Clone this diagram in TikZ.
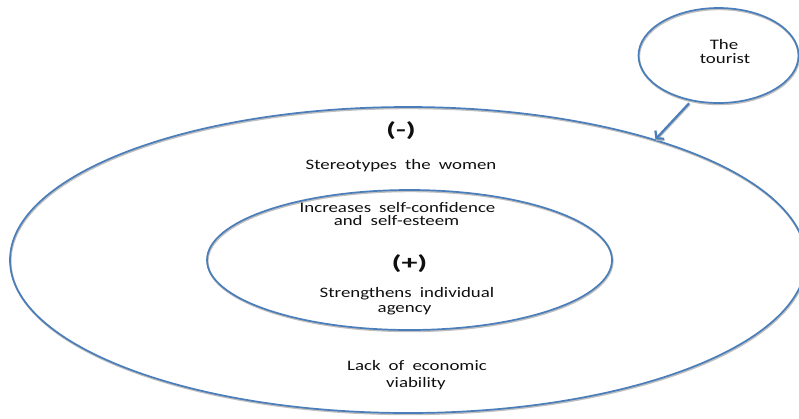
\documentclass[tikz,border=0pt]{standalone}
\usepackage{fontspec}
\setmainfont{Carlito}[FakeStretch=1.3, WordSpace=1.9]
\newfontfamily\signfont{Carlito}[FakeStretch=1.6]
\usetikzlibrary{shapes.geometric, arrows.meta}
\definecolor{ringblue}{RGB}{74,126,187}
\definecolor{inktext}{RGB}{15,15,15}

\begin{document}
\begin{tikzpicture}[x=1pt, y=-1pt,
  softshadow/.style={preaction={draw=black!25, line width=2pt,
      transform canvas={shift={(0.6pt,-1.2pt)}}}},
  ring/.style={ellipse, draw=ringblue, line width=1.7pt, inner sep=0pt, softshadow},
  lbl/.style={anchor=base, inner sep=0pt, text=inktext,
      font=\fontsize{14.5}{17}\selectfont},
  sign/.style={anchor=base, inner sep=0pt, text=inktext,
      font=\signfont\bfseries\fontsize{20}{24}\selectfont},
  pointer/.style={draw=ringblue, line width=2.2pt, softshadow,
      -{Straight Barb[length=5pt, width=12pt]}, shorten <=3pt}]

  \useasboundingbox (0,0) rectangle (799,418);

  % three rings
  \node[ring, minimum width=796pt, minimum height=306pt] (outer) at (408,260) {};
  \node[ring, minimum width=405pt, minimum height=140pt] (inner) at (409.5,260) {};
  \node[ring, minimum width=160pt, minimum height=95pt] (tourist) at (718.5,55.5) {};

  % the tourist acts on the outer ring
  \draw[pointer] (tourist.239.6) -- (outer.26.2);

  % labels
  \node[lbl] (tourA) at (724,49) {The};
  \node[lbl] (tourB) at (725,63) {tourist};

  \node[sign] (minus) at (401,136) {(-)};
  \node[lbl] (stereo) at (401,169) {Stereotypes the women};

  \node[lbl] (confA) at (397.5,212) {Increases self-confidence};
  \node[lbl] (confB) at (396.5,225) {and self-esteem};

  \node[sign] (plus) at (409.5,269) {(+)};
  \node[lbl] (agencyA) at (407,297) {Strengthens individual};
  \node[lbl] (agencyB) at (404.5,312) {agency};

  \node[lbl] (lackA) at (417,370) {Lack of economic};
  \node[lbl] (lackB) at (416,387) {viability};
\end{tikzpicture}
\end{document}
